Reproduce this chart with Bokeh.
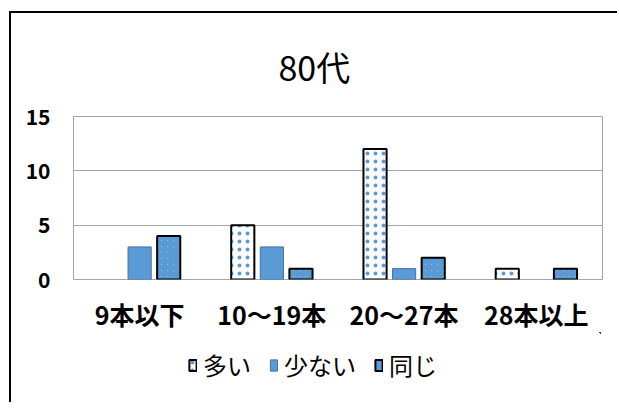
from bokeh.plotting import figure
from bokeh.layouts import column
from bokeh.models import (Range1d, LinearAxis, FixedTicker, Legend,
                          LegendItem, ColumnDataSource)
from bokeh.transform import dodge
from bokeh.embed import file_html
from bokeh.resources import INLINE

title_text = "80代"
categories = ["9本以下", "10～19本", "20～27本", "28本以上"]
series = ["多い", "少ない", "同じ"]
ooi = [0, 5, 12, 1]
sukunai = [3, 3, 1, 0]
onaji = [4, 1, 2, 1]
y_ticks = [0, 5, 10, 15]

BLUE = "#5B9BD5"
DARKBLUE = "#41719C"
FONT = "Noto Sans CJK JP"

def lc(vals, color):
    return [color if v > 0 else None for v in vals]

idx = list(range(len(categories)))
src = ColumnDataSource(dict(i=idx, cat=categories, ooi=ooi, sukunai=sukunai, onaji=onaji,
                            lc_ooi=lc(ooi, "black"), lc_suk=lc(sukunai, DARKBLUE),
                            lc_ona=lc(onaji, "black")))

p = figure(frame_width=527, frame_height=161,
           x_range=Range1d(-0.5, len(categories) - 0.5),
           y_range=Range1d(0, 15), output_backend="svg", toolbar_location=None,
           x_axis_location=None, y_axis_location=None,
           min_border_left=62, min_border_right=17, min_border_top=103,
           min_border_bottom=55)
p.styles = {"margin-left": "9px", "margin-top": "11px",
            "border-left": "2px solid #000", "border-top": "2px solid #000"}

p.title.text = title_text
p.title.align = "left"
p.title.offset = 205
p.title.text_font = FONT
p.title.text_font_size = "34px"
p.title.text_font_style = "normal"
p.title.text_color = "#000000"
p.title.standoff = 52

p.outline_line_color = "#A6A6A6"
p.outline_line_width = 1
p.background_fill_color = "white"
p.border_fill_color = "white"

# y axis
yax = LinearAxis(ticker=FixedTicker(ticks=y_ticks))
yax.axis_line_color = None
yax.major_tick_line_color = None
yax.minor_tick_line_color = None
yax.major_label_standoff = 17
yax.major_label_text_font = FONT
yax.major_label_text_font_size = "21px"
yax.major_label_text_font_style = "bold"
yax.major_label_text_color = "#000000"
p.add_layout(yax, "left")

p.ygrid.ticker = FixedTicker(ticks=y_ticks)
p.ygrid.grid_line_color = "#A6A6A6"
p.xgrid.grid_line_color = None

# x category labels axis
xax = LinearAxis(ticker=FixedTicker(ticks=idx),
                 major_label_overrides={i: c for i, c in zip(idx, categories)})
xax.axis_line_color = None
xax.major_tick_line_color = None
xax.minor_tick_line_color = None
xax.major_label_standoff = 10
xax.major_label_text_font = FONT
xax.major_label_text_font_size = "25px"
xax.major_label_text_font_style = "bold"
xax.major_label_text_color = "#000000"
p.add_layout(xax, "below")

w = 0.175
style_ooi = dict(fill_color="white", line_width=2, hatch_pattern="dot",
                 hatch_color=BLUE, hatch_scale=8, hatch_weight=1.5)
style_suk = dict(fill_color=BLUE, line_width=1)
style_ona = dict(fill_color="white", line_width=2, hatch_pattern="left_diagonal_line",
                 hatch_color=BLUE, hatch_scale=6, hatch_weight=3)

p.vbar(x=dodge("i", -0.22), top="ooi", width=w, source=src, line_color="lc_ooi", **style_ooi)
p.vbar(x=dodge("i", 0.0), top="sukunai", width=w, source=src, line_color="lc_suk", **style_suk)
p.vbar(x=dodge("i", 0.22), top="onaji", width=w, source=src, line_color="lc_ona", **style_ona)

# legend strip below the chart (its bars lie outside its visible range)
q = figure(width=606, height=70, x_range=Range1d(-10, -9), y_range=Range1d(-10, -9),
           output_backend="svg", toolbar_location=None,
           x_axis_location=None, y_axis_location=None,
           min_border_left=0, min_border_right=0, min_border_top=0, min_border_bottom=0)
q.styles = {"margin-left": "9px", "border-left": "2px solid #000"}
q.outline_line_color = None
q.xgrid.visible = False
q.ygrid.visible = False
q.background_fill_color = "white"
q.border_fill_color = "white"

l1 = q.vbar(x=dodge("i", -0.22), top="ooi", width=w, source=src, line_color="lc_ooi", **style_ooi)
l2 = q.vbar(x=dodge("i", 0.0), top="sukunai", width=w, source=src, line_color="lc_suk", **style_suk)
l3 = q.vbar(x=dodge("i", 0.22), top="onaji", width=w, source=src, line_color="lc_ona", **style_ona)

legend = Legend(items=[LegendItem(label=series[0], renderers=[l1], index=1),
                       LegendItem(label=series[1], renderers=[l2], index=0),
                       LegendItem(label=series[2], renderers=[l3], index=0)],
                orientation="horizontal", location=(115, 20))
legend.label_text_font = FONT
legend.label_text_font_size = "24px"
legend.label_text_color = "#000000"
legend.glyph_width = 9
legend.glyph_height = 14
legend.label_standoff = 6
legend.spacing = 18
legend.padding = 0
legend.margin = 0
legend.border_line_color = None
legend.background_fill_alpha = 0
q.add_layout(legend)

layout = column(p, q, spacing=0)
open("out.html", "w").write(file_html(layout, INLINE))
